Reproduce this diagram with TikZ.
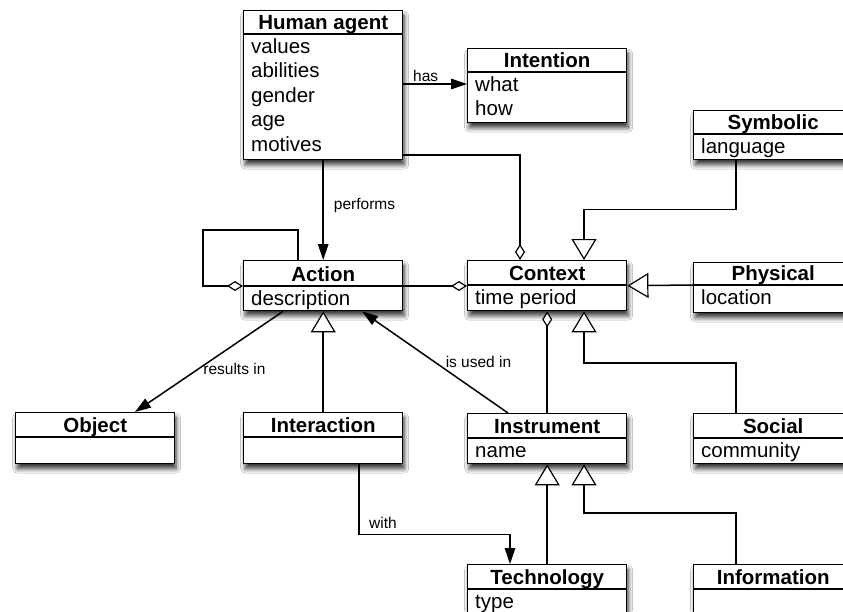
\documentclass[tikz,border=0pt]{standalone}
\usepackage{fontspec}
\setmainfont{Liberation Sans}
\usetikzlibrary{arrows.meta,calc,shadows.blur}
\tikzset{
 cls/.style={draw, line width=1.4pt, fill=white, minimum width=159pt, inner sep=0pt,
   blur shadow={shadow xshift=1.5pt, shadow yshift=-5pt, shadow blur radius=4.5pt, shadow blur steps=8, shadow opacity=80}},
 sepline/.style={line width=1.1pt},
 ctitle/.style={font=\fontsize{20.5}{24.5}\selectfont\bfseries, inner sep=0pt, anchor=base},
 cattr/.style={font=\fontsize{20.5}{24.5}\selectfont, inner sep=0pt, anchor=base west},
 lbl/.style={font=\fontsize{15.5}{18}\selectfont, inner sep=2pt},
 conn/.style={line width=1.5pt},
 filled/.style={conn, -{Triangle[length=16pt,width=10.5pt]}},
 gen/.style={conn, -{Triangle[open, length=21pt, width=25pt, fill=white, line width=1.2pt]}},
 agg/.style={conn, -{Diamond[open, length=16pt, width=10pt, fill=white, line width=1.2pt]}},
}
\newcommand{\umlclass}[7]{%
  \node[cls, minimum height=#4, anchor=north west] (#1) at (#2,#3) {};
  \draw[sepline] ($(#1.north west)+(0,#5)$) -- ($(#1.north east)+(0,#5)$);
  \node[ctitle] at ($(#1.north)+(0,#5-4.5)$) {#6};
  \foreach \a [count=\i] in {#7} {\node[cattr] at ($(#1.north west)+(8,#5+19+24.5*\i-24.5)$) {\a};}
}
\begin{document}
\begin{tikzpicture}[x=1pt,y=-1pt]
\useasboundingbox (0,0) rectangle (843,611);
\clip (0,0) rectangle (843,611);
\fill[white] (0,0) rectangle (843,611);

\umlclass{ha}{243}{10}{149}{24}{Human agent}{values,abilities,gender,age,motives}
\umlclass{intent}{467}{48}{74}{24}{Intention}{what,how}
\umlclass{action}{243}{260}{50}{26}{Action}{description}
\umlclass{context}{467}{260}{50}{25}{Context}{time period}
\umlclass{symbolic}{693}{110}{49}{24}{Symbolic}{language}
\umlclass{physical}{693}{262}{50}{23}{Physical}{location}
\umlclass{object}{15}{412}{51}{25}{Object}{}
\umlclass{interaction}{243}{412}{51}{25}{Interaction}{}
\umlclass{instrument}{467}{413}{50}{25}{Instrument}{name}
\umlclass{social}{693}{413}{50}{25}{Social}{community}
\umlclass{technology}{467}{564}{52}{25}{Technology}{type}
\umlclass{information}{693}{564}{52}{25}{Information}{}

% has
\draw[filled] ($(ha.north east)+(0,74)$) coordinate (h1) -- (h1 -| intent.west)
  node[lbl, pos=0.35, above] {has};
% performs
\draw[filled] (ha.south) -- (action.north)
  node[lbl, pos=0.45, right, xshift=8pt] {performs};
% human agent -- context
\draw[agg] ($(ha.north east)+(0,145)$) -| ($(context.north west)+(53,0)$);
% action self loop
\draw[agg] ($(action.north west)+(55,0)$) -- ++(0,-30) -- ++(-95,0) -- ++(0,56)
  -- ($(action.north west)+(0,26)$);
% action -- context
\draw[agg] ($(action.north east)+(0,26)$) -- ($(context.north west)+(0,26)$);
% symbolic -> context
\draw[gen] ($(symbolic.south west)+(43,0)$) -- ++(0,49) -| ($(context.north west)+(117,0)$);
% physical -> context
\draw[gen] ($(physical.north west)+(0,23)$) -- (context.east);
% social -> context
\draw[gen] ($(social.north west)+(43,0)$) -- ++(0,-50) -| ($(context.south west)+(117,0)$);
% instrument -- context
\draw[agg] (instrument.north) -- (context.south);
% is used in
\draw[filled] ($(instrument.north west)+(41,0)$) -- ($(action.south west)+(119,0)$)
  node[lbl, pos=0.5, right, xshift=8pt] {is used in};
% results in
\draw[filled] ($(action.south west)+(40,0)$) -- ($(object.north west)+(120,0)$)
  node[lbl, pos=0.57, right, xshift=2pt] {results in};
% interaction -> action
\draw[gen] (interaction.north) -- (action.south);
% with
\draw[filled] ($(interaction.south west)+(116,0)$) -- ++(0,70) coordinate (w)
  -| ($(technology.north west)+(43,0)$);
\node[lbl, anchor=base west] at ($(w)+(8,-6)$) {with};
% technology -> instrument
\draw[gen] (technology.north) -- (instrument.south);
% information -> instrument
\draw[gen] ($(information.north west)+(43,0)$) -- ++(0,-51) -| ($(instrument.south west)+(117,0)$);
\end{tikzpicture}
\end{document}
